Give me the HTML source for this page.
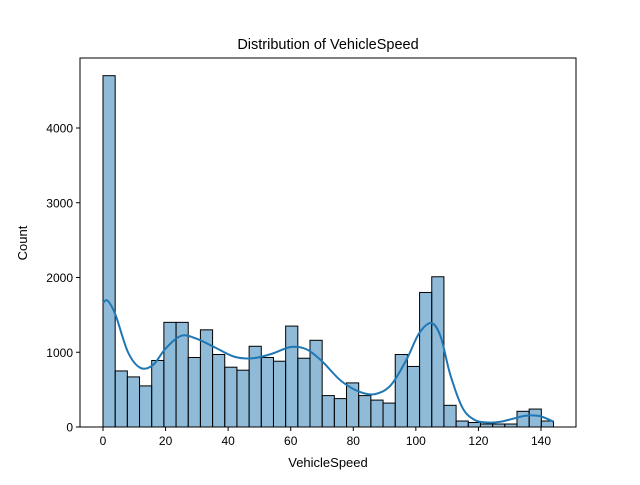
<!DOCTYPE html>
<html><head><meta charset="utf-8"><style>
body{margin:0;background:#fff}
svg{font-family:"Liberation Sans","DejaVu Sans",sans-serif}
</style></head><body>
<svg id="chart" width="640" height="480" viewBox="0 0 640 480" xmlns="http://www.w3.org/2000/svg">
<rect width="640" height="480" fill="#fff"/>
<g id="bars"></g>
<path id="kde" fill="none" stroke="#1f77b4" stroke-width="2"/>
<rect x="80" y="58" width="496" height="369" fill="none" stroke="#000" stroke-width="1"/>
<g id="xt"></g><g id="yt"></g>
<text x="328" y="49" text-anchor="middle" font-size="14.5">Distribution of VehicleSpeed</text>
<text x="328" y="467" text-anchor="middle" font-size="13">VehicleSpeed</text>
<text x="27" y="243" text-anchor="middle" font-size="13" transform="rotate(-90 27 243)">Count</text>
</svg>
<script>
const counts=[4700,750,670,550,890,1400,1400,930,1300,970,800,760,1080,930,880,1350,920,1160,420,380,590,420,360,320,970,810,1800,2010,290,80,60,40,40,40,210,240,80];
const binMin=0, binMax=144;
const kdeX=[0,1.5,4,8,12,16,20,25,30,36,42,48,54,60,65,70,76,82,87,92,97,101,105,108,111,115,119,123,127,131,135,139,142,144];
const kdeY=[1660,1690,1500,1000,790,830,1050,1220,1180,1060,940,920,980,1070,1040,880,620,470,440,560,900,1250,1390,1200,700,250,90,60,70,110,150,150,110,70];
const xTicks=[0,20,40,60,80,100,120,140];
const yTicks=[0,1000,2000,3000,4000];
const NS="http://www.w3.org/2000/svg";
const X=v=>103+(v-0)*(541-103)/140;
const Y=v=>427-v*(427-128)/4000;
const bw=(binMax-binMin)/counts.length;
const gb=document.getElementById('bars');
counts.forEach((c,i)=>{
 const r=document.createElementNS(NS,'rect');
 const x0=X(binMin+i*bw),x1=X(binMin+(i+1)*bw);
 r.setAttribute('x',x0);r.setAttribute('y',Y(c));r.setAttribute('width',x1-x0);r.setAttribute('height',Y(0)-Y(c));
 r.setAttribute('fill','rgba(31,119,180,0.5)');r.setAttribute('stroke','#000');r.setAttribute('stroke-width','1');
 
 
 gb.appendChild(r);
});
const pts=kdeX.map((x,i)=>[X(x),Y(kdeY[i])]);
let d='M'+pts[0][0]+','+pts[0][1];
for(let i=0;i<pts.length-1;i++){
 const p0=pts[Math.max(0,i-1)],p1=pts[i],p2=pts[i+1],p3=pts[Math.min(pts.length-1,i+2)];
 d+=` C${p1[0]+(p2[0]-p0[0])/6},${p1[1]+(p2[1]-p0[1])/6} ${p2[0]-(p3[0]-p1[0])/6},${p2[1]-(p3[1]-p1[1])/6} ${p2[0]},${p2[1]}`;
}
document.getElementById('kde').setAttribute('d',d);
const gx=document.getElementById('xt');
xTicks.forEach(t=>{
 const l=document.createElementNS(NS,'line');
 l.setAttribute('x1',X(t));l.setAttribute('x2',X(t));l.setAttribute('y1',427);l.setAttribute('y2',431);l.setAttribute('stroke','#000');
 
 
 gx.appendChild(l);
 const s=document.createElementNS(NS,'text');
 s.setAttribute('x',X(t));s.setAttribute('y',445);s.setAttribute('text-anchor','middle');s.setAttribute('font-size','12');s.textContent=t;
 
 
 gx.appendChild(s);
});
const gy=document.getElementById('yt');
yTicks.forEach(t=>{
 const l=document.createElementNS(NS,'line');
 l.setAttribute('x1',76);l.setAttribute('x2',80);l.setAttribute('y1',Y(t));l.setAttribute('y2',Y(t));l.setAttribute('stroke','#000');
 
 
 gy.appendChild(l);
 const s=document.createElementNS(NS,'text');
 s.setAttribute('x',73);s.setAttribute('y',Y(t)+4.5);s.setAttribute('text-anchor','end');s.setAttribute('font-size','12');s.textContent=t;
 
 
 gy.appendChild(s);
});
</script>
</body></html>
